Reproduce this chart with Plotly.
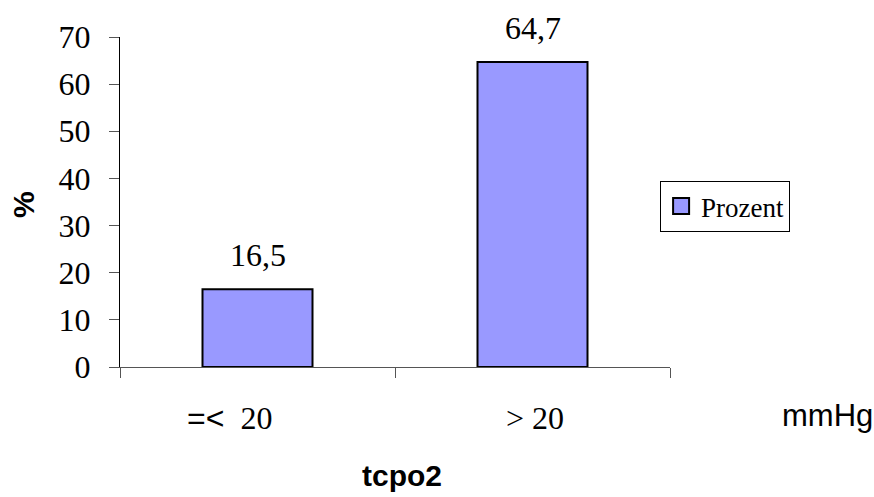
import plotly.graph_objects as go

categories = ["=<  20", "> 20"]
values = [16.5, 64.7]
series_name = "Prozent"
y_ticks = [0, 10, 20, 30, 40, 50, 60, 70]

SERIF = "Liberation Serif, Times New Roman, serif"
SANS = "Liberation Sans, Arial, sans-serif"
BAR_COLOR = "#9999FF"

fig = go.Figure()
fig.add_trace(go.Bar(
    x=categories, y=values, name=series_name, showlegend=False,
    marker=dict(color=BAR_COLOR, line=dict(color="black", width=2)),
    width=0.4,
))
# legend entry
fig.add_trace(go.Scatter(
    x=[None], y=[None], name=series_name, mode="markers",
    marker=dict(symbol="square", size=16, color=BAR_COLOR,
                line=dict(color="black", width=2)),
))

annotations = []
# value labels
for c, v in zip(categories, values):
    annotations.append(dict(
        x=c, y=v, xref="x", yref="y", text=f"{v:.1f}".replace(".", ","),
        showarrow=False, yshift=34, font=dict(family=SERIF, size=32, color="black"),
        xanchor="center", yanchor="middle"))

# category labels (mixed fonts)
def cat_label(c):
    if c.startswith("=<"):
        return ('<span style="font-family:Liberation Sans">=&lt;</span>'
                '&nbsp;&nbsp;' + c.split()[-1])
    return c.replace(">", "&gt;")

shifts = [-28, 2]
for c, s in zip(categories, shifts):
    annotations.append(dict(
        x=c, y=0, xref="x", yref="y", text=cat_label(c), showarrow=False,
        yshift=-51, xshift=s, font=dict(family=SERIF, size=32, color="black"),
        xanchor="center", yanchor="middle"))

annotations.append(dict(x=1.2855, y=-0.148, xref="paper", yref="paper", text="mmHg",
                        showarrow=False, font=dict(family=SANS, size=31, color="black"),
                        xanchor="center", yanchor="middle"))
annotations.append(dict(x=0.513, y=-0.33, xref="paper", yref="paper", text="<b>tcpo2</b>",
                        showarrow=False, font=dict(family=SANS, size=30, color="black"),
                        xanchor="center", yanchor="middle"))
annotations.append(dict(x=-0.1745, y=0.491, xref="paper", yref="paper", text="<b>%</b>",
                        showarrow=False, textangle=-90,
                        font=dict(family=SANS, size=30, color="black"),
                        xanchor="center", yanchor="middle"))

fig.update_layout(
    width=874, height=497,
    margin=dict(l=120, r=204, t=37, b=130, pad=0),
    paper_bgcolor="white", plot_bgcolor="white",
    showlegend=True,
    legend=dict(x=0.982, y=0.5636, xanchor="left", yanchor="top",
                bordercolor="black", borderwidth=1, bgcolor="white",
                font=dict(family=SERIF, size=27, color="black"),
                itemwidth=30, tracegroupgap=0),
    annotations=annotations,
    bargap=0.6,
)
fig.update_xaxes(
    type="category", range=[-0.5, 1.5], tickson="boundaries",
    ticks="outside", ticklen=10, tickcolor="#555555", tickwidth=1,
    showticklabels=False, showline=True, linecolor="#555555", linewidth=1,
    showgrid=False, zeroline=False, fixedrange=True,
)
fig.update_yaxes(
    range=[0, 70], tickvals=y_ticks, ticks="outside", ticklen=10,
    tickcolor="#555555", tickwidth=1, showline=True, linecolor="black", linewidth=1,
    showgrid=False, zeroline=False,
    tickfont=dict(family=SERIF, size=32, color="black"),
    ticklabelstandoff=12,
)

fig.write_html("out.html")
